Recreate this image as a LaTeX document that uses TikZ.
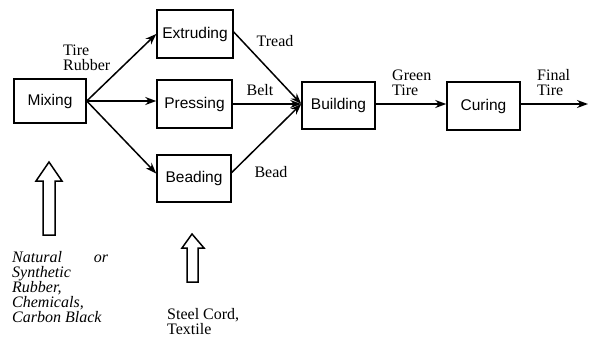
\documentclass[tikz,border=0pt]{standalone}
\usepackage{fontspec}
\newfontfamily\boxfont{Liberation Sans}
\newfontfamily\lblfont{Liberation Serif}
\usetikzlibrary{arrows.meta}
\begin{document}
\begin{tikzpicture}[x=1pt,y=-1pt,
  proc/.style={draw,line width=1.5pt,inner sep=0pt,font=\boxfont\fontsize{15.5}{16}\selectfont},
  flow/.style={line width=1.5pt,-{Stealth[length=11pt,width=8pt]}},
  lbl/.style={inner sep=0pt,font=\lblfont\fontsize{16}{15}\selectfont,align=left},
  hollow/.style={draw,line width=1.5pt,line join=miter}]
\useasboundingbox (0,0) rectangle (589,338);
\node[proc,minimum width=72pt,minimum height=44pt] (mix) at (50,101) {Mixing};
\node[proc,minimum width=76pt,minimum height=48pt] (ext) at (195,34) {Extruding};
\node[proc,minimum width=75pt,minimum height=48pt] (pre) at (194.5,104) {Pressing};
\node[proc,minimum width=74pt,minimum height=47pt] (bea) at (194,178.5) {Beading};
\node[proc,minimum width=73pt,minimum height=47pt] (bui) at (338.5,105.5) {Building};
\node[proc,minimum width=73pt,minimum height=48pt] (cur) at (483.5,106) {Curing};
\coordinate (out) at (588,104);

\draw[flow] (mix.east) -- (ext.west);
\draw[flow] (mix.east) -- (mix.east -| pre.west);
\draw[flow] (mix.east) -- ([yshift=5pt]bea.west);
\draw[flow] ([yshift=2pt]ext.east) -- ([yshift=1.5pt]bui.west);
\draw[flow] (pre.east) -- ([yshift=1.5pt]bui.west);
\draw[flow] ([yshift=6pt]bea.east) -- ([yshift=1.5pt]bui.west);
\draw[flow] ([yshift=1.5pt]bui.east) -- ([yshift=2pt]cur.west);
\draw[flow] ([yshift=2pt]cur.east) -- (out);

\node[lbl,anchor=west] (tr) at (63,57.5) {Tire\\Rubber};
\node[lbl] (tread) at (275,41) {Tread};
\node[lbl] (belt) at (260,90) {Belt};
\node[lbl] (bead) at (271,172) {Bead};
\node[lbl,anchor=west] (green) at (392,82.5) {Green\\Tire};
\node[lbl,anchor=west] (final) at (537,82.5) {Final\\Tire};

\draw[hollow] (49,162) -- (62,181) -- (55,181) -- (55,235) -- (43,235) -- (43,181) -- (36,181) -- cycle;
\draw[hollow] (192,234) -- (204,248) -- (198,248) -- (198,282) -- (187,282) -- (187,248) -- (182,248) -- cycle;

\node[lbl,anchor=west,font=\lblfont\itshape\fontsize{16}{15}\selectfont] (raw) at (12,287)
  {\makebox[96pt][l]{Natural\hfill or}\\Synthetic\\Rubber,\\Chemicals,\\Carbon Black};
\node[lbl,anchor=west] (steel) at (167,322) {Steel Cord,\\Textile};
\end{tikzpicture}
\end{document}
